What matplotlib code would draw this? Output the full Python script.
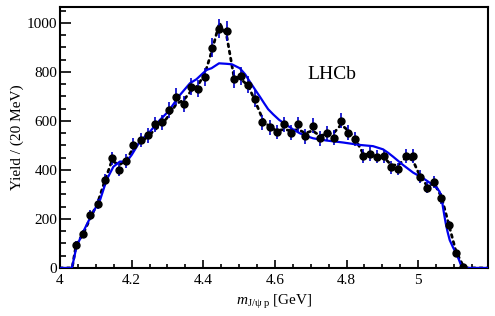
import matplotlib
matplotlib.use("Agg")
import matplotlib.pyplot as plt
from matplotlib.ticker import MultipleLocator, FormatStrFormatter

# data points: bin centres (20 MeV bins) and yields
bin_centres = [4.045, 4.065, 4.085, 4.105, 4.125, 4.145, 4.165, 4.185, 4.205, 4.225,
               4.245, 4.265, 4.285, 4.305, 4.325, 4.345, 4.365, 4.385, 4.405, 4.425,
               4.445, 4.465, 4.485, 4.505, 4.525, 4.545, 4.565, 4.585, 4.605, 4.625,
               4.645, 4.665, 4.685, 4.705, 4.725, 4.745, 4.765, 4.785, 4.805, 4.825,
               4.845, 4.865, 4.885, 4.905, 4.925, 4.945, 4.965, 4.985, 5.005, 5.025,
               5.045, 5.065, 5.085, 5.105, 5.125]
yields = [95, 139, 216, 261, 359, 447, 400, 436, 503, 522,
          541, 586, 595, 645, 699, 669, 740, 731, 780, 899,
          977, 966, 770, 784, 747, 691, 595, 574, 555, 586,
          552, 586, 537, 580, 529, 550, 532, 601, 552, 527,
          457, 464, 454, 455, 410, 404, 457, 457, 373, 328,
          350, 284, 174, 63, 5]
errors = [15, 17, 20, 22, 25, 27, 26, 27, 29, 29,
          30, 31, 31, 32, 34, 33, 35, 35, 36, 38,
          40, 40, 36, 36, 35, 34, 31, 31, 30, 31,
          30, 31, 30, 31, 30, 30, 30, 31, 30, 29,
          28, 28, 27, 27, 26, 26, 27, 27, 25, 23,
          24, 21, 17, 10, 4]

# full fit (dotted black), read at bin centres plus end points
dot_x = [4.0, 4.034] + bin_centres + [5.135, 5.2]
dot_y = [0, 0, 95, 140, 205, 265, 355, 438, 420, 440, 490, 515,
         535, 565, 585, 625, 670, 685, 720, 745, 795, 890,
         1000, 950, 785, 770, 745, 680, 610, 575, 560, 565,
         560, 565, 550, 560, 540, 545, 552, 585, 560, 525,
         470, 460, 455, 450, 420, 420, 450, 440, 375, 335,
         345, 290, 180, 70, 10, 0, 0]

# fit without Pc states (blue)
fit_x = [4.0, 4.033, 4.037, 4.040, 4.046, 4.065, 4.088, 4.112, 4.130, 4.149, 4.167,
         4.186, 4.200, 4.223, 4.251, 4.279, 4.302, 4.335, 4.363, 4.381, 4.409,
         4.423, 4.444, 4.465, 4.480, 4.502, 4.517, 4.530, 4.545, 4.558, 4.570,
         4.581, 4.595, 4.612, 4.632, 4.650, 4.669, 4.688, 4.707, 4.744, 4.790,
         4.837, 4.874, 4.902, 4.916, 4.930, 4.944, 4.958, 4.986, 5.014, 5.041,
         5.052, 5.060, 5.065, 5.069, 5.073, 5.077, 5.082, 5.088, 5.097, 5.106,
         5.114, 5.120, 5.128, 5.2]
fit_y = [0, 0, 25, 45, 87, 148, 216, 278, 359, 413, 434,
         434, 461, 516, 556, 604, 638, 706, 754, 770, 808,
         815, 835, 833, 831, 815, 790, 760, 727, 699, 672,
         648, 627, 604, 584, 566, 550, 538, 529, 520, 512,
         502, 497, 484, 470, 454, 437, 420, 389, 366, 339,
         327, 311, 290, 250, 215, 182, 148, 114, 85, 60,
         33, 10, 0, 0]

plt.rcParams['font.family'] = ['Liberation Serif', 'DejaVu Serif']
plt.rcParams['mathtext.fontset'] = 'custom'
plt.rcParams['mathtext.it'] = 'Liberation Serif:italic'
plt.rcParams['mathtext.rm'] = 'Liberation Serif'

fig = plt.figure(figsize=(4.95, 3.16), dpi=100)
ax = fig.add_axes([0.1212, 0.152, 0.8647, 0.826])

ax.plot(dot_x, dot_y, color='black', lw=2.0, linestyle=(0, (1, 1.6)),
        dash_capstyle='round', zorder=2)
ax.plot(fit_x, fit_y, color='#0000ee', lw=1.6, zorder=3)
ax.errorbar(bin_centres, yields, yerr=errors, fmt='o', color='black',
            ecolor='#0000cc', elinewidth=1.2, markersize=5.0, capsize=0,
            zorder=4)

ax.set_xlim(4.0, 5.195)
ax.set_ylim(0, 1065)
ax.xaxis.set_major_locator(MultipleLocator(0.2))
ax.xaxis.set_minor_locator(MultipleLocator(0.05))
ax.yaxis.set_major_locator(MultipleLocator(200))
ax.yaxis.set_minor_locator(MultipleLocator(50))
ax.xaxis.set_major_formatter(FormatStrFormatter('%g'))
ax.tick_params(which='both', direction='in', top=False, right=False,
               labelsize=11, width=1.2)
ax.tick_params(axis='y', which='major', length=8)
ax.tick_params(axis='y', which='minor', length=4.5)
ax.tick_params(axis='x', which='major', length=6)
ax.tick_params(axis='x', which='minor', length=3)
ax.tick_params(axis='x', pad=4)
ax.tick_params(axis='y', pad=2)
for s in ax.spines.values():
    s.set_linewidth(1.5)

ax.text(4.69, 772, 'LHCb', fontsize=14)
ax.set_ylabel('Yield / (20 MeV)', fontsize=11)
ax.yaxis.set_label_coords(-0.083, 0.5)
ax.set_xlabel(r'$m_{\mathrm{J/\psi\ p}}$ [GeV]', fontsize=11, labelpad=5)

fig.savefig('out.png', dpi=100)
